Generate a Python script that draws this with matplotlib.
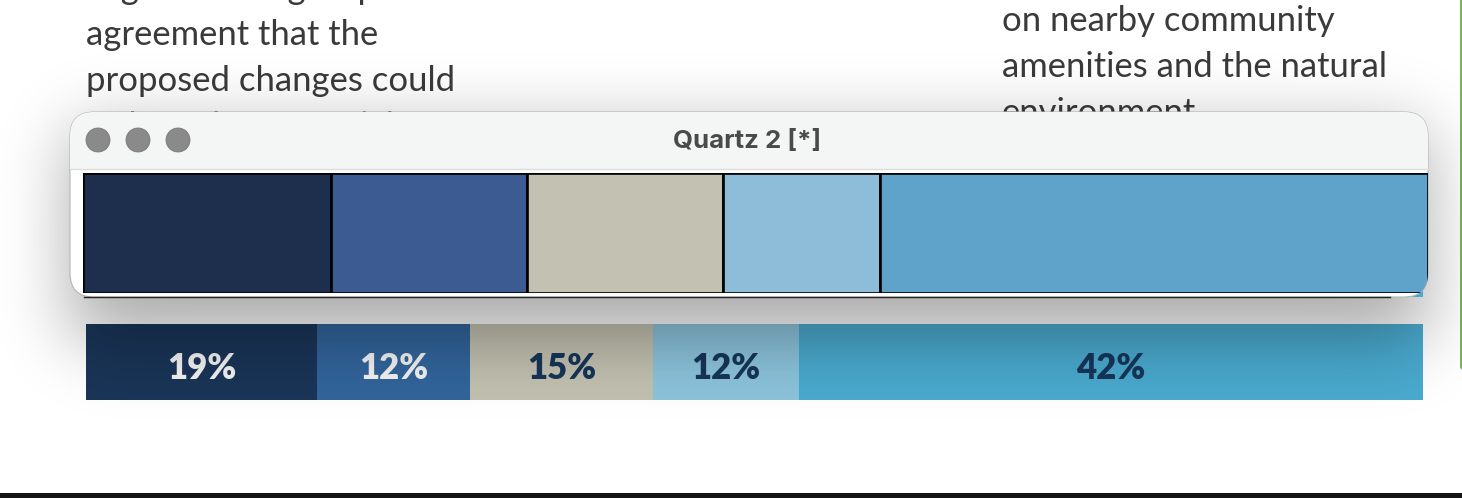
import math
import numpy as np
import matplotlib
matplotlib.use("Agg")
import matplotlib.pyplot as plt
from matplotlib.patches import FancyBboxPatch, Circle, Rectangle

# Barre de la fenêtre Quartz
quartz_values = [19, 15, 15, 12, 42]
quartz_colors = ["#1e2e4d", "#3b5b92", "#c3c1b1", "#8ebdd9", "#5fa3ca"]

# Barre du dessous : largeurs lues en %, étiquettes affichées
bar_values = [17.3, 11.4, 13.7, 10.9, 46.7]
bar_labels = ["19%", "12%", "15%", "12%", "42%"]
bar_colors = ["#1a3558", "#32659c", "#c3c1b0", "#8cc4dc", "#4aaacf"]
label_colors = ["#f4f4f4", "#f4f4f4", "#17365a", "#17365a", "#17365a"]

left_text = ["High level of group", "agreement that the", "proposed changes could", "reduce the potential"]
right_text = ["on nearby community", "amenities and the natural", "environment"]

W, H = 1462, 498
fig = plt.figure(figsize=(W / 100, H / 100), dpi=100, facecolor="white")


def pixel_axes(x0, y0, x1, y1, zorder):
    # axes placé en pixels de l'image (y vers le bas)
    ax = fig.add_axes([x0 / W, 1 - y1 / H, (x1 - x0) / W, (y1 - y0) / H], zorder=zorder)
    ax.axis("off")
    return ax


# Fond : texte, bord vert, bande noire
bg = pixel_axes(0, 0, W, H, 0)
bg.set_xlim(0, W)
bg.set_ylim(H, 0)
for i, line in enumerate(left_text):
    bg.text(86, -1 + 46 * i, line, fontsize=24.9, family="Lato", color="#3a3a3a", va="baseline")
for i, line in enumerate(right_text):
    bg.text(1002, 31 + 46 * i, line, fontsize=24.9, family="Lato", color="#3a3a3a", va="baseline")
bg.add_patch(FancyBboxPatch((1460, -30), 10, 400, boxstyle="round,pad=0,rounding_size=4", fc="#7cb35f", ec="none"))
bg.add_patch(Rectangle((0, 493), W, 5, fc="#151515", ec="none"))

# Barre du dessous
low = pixel_axes(86, 324, 1423, 400, 1)
low.set_xlim(0, sum(bar_values))
low.set_ylim(0, 1)
left = 0
for v, c, lab, lc in zip(bar_values, bar_colors, bar_labels, label_colors):
    low.barh(0.5, v, left=left, height=1, color=c, edgecolor="none")
    low.text(left + v / 2, 0.42, lab, ha="center", va="center", fontsize=25, family="Lato",
             fontweight="heavy", color=lc)
    left += v

# Ombre de la fenêtre
erf = np.vectorize(math.erf)
xx = np.arange(W) + 0.5
yy = np.arange(H) + 0.5
sigma = 35 * math.sqrt(2)
sx = 0.5 * (erf((xx - 70) / sigma) - erf((xx - 1428) / sigma))
sy = 0.5 * (erf((yy - 130) / sigma) - erf((yy - 340) / sigma))
shadow = np.zeros((H, W, 4))
shadow[..., 3] = 0.33 * np.outer(sy, sx)
sh = pixel_axes(0, 0, W, H, 2)
sh.imshow(shadow, extent=(0, W, H, 0), aspect="auto", interpolation="bilinear")
sh.set_xlim(0, W)
sh.set_ylim(H, 0)

# Fenêtre Quartz
win = pixel_axes(0, 0, W, H, 3)
win.set_xlim(0, W)
win.set_ylim(H, 0)
win.add_patch(Rectangle((1390, 291), 33, 6, fc="#4aaacf", ec="none"))
body = FancyBboxPatch((70, 112), 1358, 185, boxstyle="round,pad=0,rounding_size=24",
                      fc="white", ec="#b5b5b5", lw=0.8)
win.add_patch(body)
title = Rectangle((70, 112), 1358, 57, fc="#f4f6f5", ec="none")
win.add_patch(title)
title.set_clip_path(body)
win.plot([70, 1428], [168.5, 168.5], color="#dcdedd", lw=1)
win.plot([84, 1390], [296.8, 296.8], color="#222222", lw=1)
for cx in [98, 138, 178]:
    win.add_patch(Circle((cx, 140), 12, fc="#8a8a8a", ec="#7a7a7a", lw=0.6))
win.text(747.5, 141, "Quartz 2 [*]", ha="center", va="center", fontsize=18.6, family="Inter",
         fontweight="bold", color="#4a4a4a")

# Barre de la fenêtre
top = pixel_axes(83, 173, 1428, 293, 4)
top.set_xlim(0, sum(quartz_values))
top.set_ylim(0, 1)
left = 0
for v, c in zip(quartz_values, quartz_colors):
    seg = top.barh(0.5, v, left=left, height=1, color=c, edgecolor="black", linewidth=1.9)[0]
    seg.set_clip_path(body)
    left += v

fig.savefig("out.png", dpi=100)
